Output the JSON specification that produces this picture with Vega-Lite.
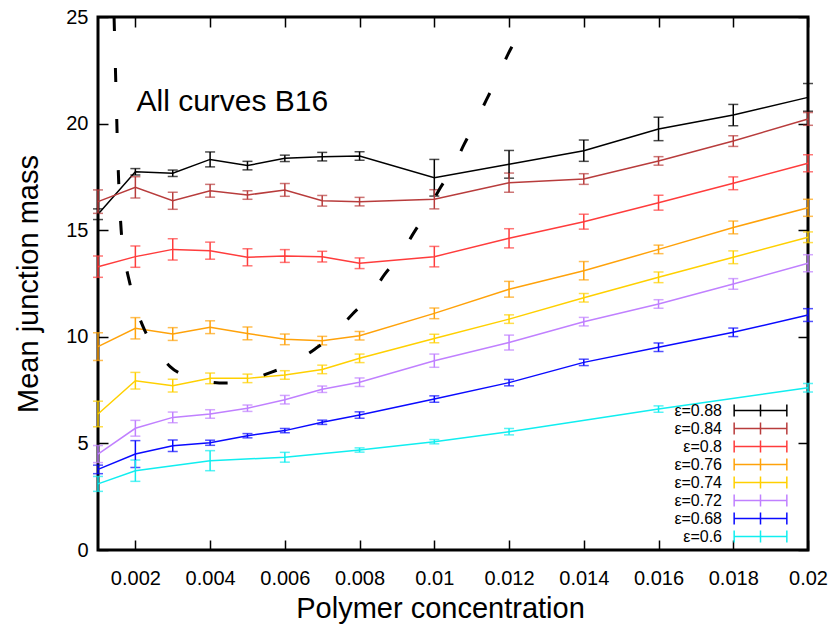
{
  "$schema": "https://vega.github.io/schema/vega-lite/v6.json",
  "width": 710,
  "height": 533,
  "autosize": {"type": "none"},
  "padding": {"left": 98, "top": 17, "right": 31, "bottom": 84},
  "background": "white",
  "config": {
    "font": "Liberation Sans",
    "view": {"stroke": "#000", "strokeWidth": 3},
    "axis": {
      "grid": false,
      "domain": false,
      "tickColor": "#000",
      "tickWidth": 1.5,
      "tickSize": -10,
      "labelColor": "#000",
      "labelFontSize": 20,
      "labelFlush": false,
      "titleFontSize": 29,
      "titleFontWeight": "normal",
      "titleColor": "#000"
    }
  },
  "datasets": {
    "series": [
      {"eps": 0.88, "conc": 0.001, "mass": 15.75, "err": 0.25},
      {"eps": 0.88, "conc": 0.002, "mass": 17.74, "err": 0.15},
      {"eps": 0.88, "conc": 0.003, "mass": 17.67, "err": 0.15},
      {"eps": 0.88, "conc": 0.004, "mass": 18.32, "err": 0.35},
      {"eps": 0.88, "conc": 0.005, "mass": 18.03, "err": 0.2},
      {"eps": 0.88, "conc": 0.006, "mass": 18.37, "err": 0.15},
      {"eps": 0.88, "conc": 0.007, "mass": 18.45, "err": 0.2},
      {"eps": 0.88, "conc": 0.008, "mass": 18.48, "err": 0.2},
      {"eps": 0.88, "conc": 0.01, "mass": 17.46, "err": 0.86},
      {"eps": 0.88, "conc": 0.012, "mass": 18.09, "err": 0.65},
      {"eps": 0.88, "conc": 0.014, "mass": 18.73, "err": 0.5},
      {"eps": 0.88, "conc": 0.016, "mass": 19.75, "err": 0.55},
      {"eps": 0.88, "conc": 0.018, "mass": 20.4, "err": 0.5},
      {"eps": 0.88, "conc": 0.02, "mass": 21.23, "err": 0.65},
      {"eps": 0.84, "conc": 0.001, "mass": 16.34, "err": 0.55},
      {"eps": 0.84, "conc": 0.002, "mass": 17.01, "err": 0.5},
      {"eps": 0.84, "conc": 0.003, "mass": 16.38, "err": 0.4},
      {"eps": 0.84, "conc": 0.004, "mass": 16.85, "err": 0.3},
      {"eps": 0.84, "conc": 0.005, "mass": 16.65, "err": 0.2},
      {"eps": 0.84, "conc": 0.006, "mass": 16.89, "err": 0.3},
      {"eps": 0.84, "conc": 0.007, "mass": 16.38, "err": 0.25},
      {"eps": 0.84, "conc": 0.008, "mass": 16.34, "err": 0.2},
      {"eps": 0.84, "conc": 0.01, "mass": 16.45, "err": 0.45},
      {"eps": 0.84, "conc": 0.012, "mass": 17.23, "err": 0.45},
      {"eps": 0.84, "conc": 0.014, "mass": 17.4, "err": 0.25},
      {"eps": 0.84, "conc": 0.016, "mass": 18.25, "err": 0.2},
      {"eps": 0.84, "conc": 0.018, "mass": 19.18, "err": 0.25},
      {"eps": 0.84, "conc": 0.02, "mass": 20.22, "err": 0.3},
      {"eps": 0.8, "conc": 0.001, "mass": 13.29, "err": 0.5},
      {"eps": 0.8, "conc": 0.002, "mass": 13.76, "err": 0.5},
      {"eps": 0.8, "conc": 0.003, "mass": 14.1, "err": 0.5},
      {"eps": 0.8, "conc": 0.004, "mass": 14.04, "err": 0.4},
      {"eps": 0.8, "conc": 0.005, "mass": 13.73, "err": 0.4},
      {"eps": 0.8, "conc": 0.006, "mass": 13.79, "err": 0.3},
      {"eps": 0.8, "conc": 0.007, "mass": 13.76, "err": 0.25},
      {"eps": 0.8, "conc": 0.008, "mass": 13.45, "err": 0.25},
      {"eps": 0.8, "conc": 0.01, "mass": 13.76, "err": 0.48},
      {"eps": 0.8, "conc": 0.012, "mass": 14.62, "err": 0.45},
      {"eps": 0.8, "conc": 0.014, "mass": 15.4, "err": 0.35},
      {"eps": 0.8, "conc": 0.016, "mass": 16.29, "err": 0.35},
      {"eps": 0.8, "conc": 0.018, "mass": 17.2, "err": 0.3},
      {"eps": 0.8, "conc": 0.02, "mass": 18.14, "err": 0.4},
      {"eps": 0.76, "conc": 0.001, "mass": 9.54, "err": 0.65},
      {"eps": 0.76, "conc": 0.002, "mass": 10.4, "err": 0.5},
      {"eps": 0.76, "conc": 0.003, "mass": 10.13, "err": 0.3},
      {"eps": 0.76, "conc": 0.004, "mass": 10.45, "err": 0.3},
      {"eps": 0.76, "conc": 0.005, "mass": 10.16, "err": 0.3},
      {"eps": 0.76, "conc": 0.006, "mass": 9.88, "err": 0.25},
      {"eps": 0.76, "conc": 0.007, "mass": 9.82, "err": 0.2},
      {"eps": 0.76, "conc": 0.008, "mass": 10.05, "err": 0.2},
      {"eps": 0.76, "conc": 0.01, "mass": 11.1, "err": 0.25},
      {"eps": 0.76, "conc": 0.012, "mass": 12.23, "err": 0.37},
      {"eps": 0.76, "conc": 0.014, "mass": 13.1, "err": 0.43},
      {"eps": 0.76, "conc": 0.016, "mass": 14.1, "err": 0.2},
      {"eps": 0.76, "conc": 0.018, "mass": 15.13, "err": 0.3},
      {"eps": 0.76, "conc": 0.02, "mass": 16.05, "err": 0.4},
      {"eps": 0.74, "conc": 0.001, "mass": 6.38, "err": 0.6},
      {"eps": 0.74, "conc": 0.002, "mass": 7.94, "err": 0.39},
      {"eps": 0.74, "conc": 0.003, "mass": 7.71, "err": 0.3},
      {"eps": 0.74, "conc": 0.004, "mass": 8.05, "err": 0.25},
      {"eps": 0.74, "conc": 0.005, "mass": 8.05, "err": 0.2},
      {"eps": 0.74, "conc": 0.006, "mass": 8.21, "err": 0.2},
      {"eps": 0.74, "conc": 0.007, "mass": 8.47, "err": 0.2},
      {"eps": 0.74, "conc": 0.008, "mass": 8.99, "err": 0.2},
      {"eps": 0.74, "conc": 0.01, "mass": 9.92, "err": 0.2},
      {"eps": 0.74, "conc": 0.012, "mass": 10.83, "err": 0.2},
      {"eps": 0.74, "conc": 0.014, "mass": 11.83, "err": 0.2},
      {"eps": 0.74, "conc": 0.016, "mass": 12.79, "err": 0.25},
      {"eps": 0.74, "conc": 0.018, "mass": 13.73, "err": 0.3},
      {"eps": 0.74, "conc": 0.02, "mass": 14.67, "err": 0.25},
      {"eps": 0.72, "conc": 0.001, "mass": 4.5, "err": 0.4},
      {"eps": 0.72, "conc": 0.002, "mass": 5.71, "err": 0.37},
      {"eps": 0.72, "conc": 0.003, "mass": 6.22, "err": 0.25},
      {"eps": 0.72, "conc": 0.004, "mass": 6.38, "err": 0.2},
      {"eps": 0.72, "conc": 0.005, "mass": 6.65, "err": 0.15},
      {"eps": 0.72, "conc": 0.006, "mass": 7.05, "err": 0.2},
      {"eps": 0.72, "conc": 0.007, "mass": 7.54, "err": 0.15},
      {"eps": 0.72, "conc": 0.008, "mass": 7.87, "err": 0.2},
      {"eps": 0.72, "conc": 0.01, "mass": 8.88, "err": 0.31},
      {"eps": 0.72, "conc": 0.012, "mass": 9.73, "err": 0.35},
      {"eps": 0.72, "conc": 0.014, "mass": 10.71, "err": 0.2},
      {"eps": 0.72, "conc": 0.016, "mass": 11.54, "err": 0.2},
      {"eps": 0.72, "conc": 0.018, "mass": 12.48, "err": 0.25},
      {"eps": 0.72, "conc": 0.02, "mass": 13.45, "err": 0.4},
      {"eps": 0.68, "conc": 0.001, "mass": 3.78, "err": 0.2},
      {"eps": 0.68, "conc": 0.002, "mass": 4.5, "err": 0.63},
      {"eps": 0.68, "conc": 0.003, "mass": 4.89, "err": 0.27},
      {"eps": 0.68, "conc": 0.004, "mass": 5.03, "err": 0.12},
      {"eps": 0.68, "conc": 0.005, "mass": 5.36, "err": 0.1},
      {"eps": 0.68, "conc": 0.006, "mass": 5.6, "err": 0.1},
      {"eps": 0.68, "conc": 0.007, "mass": 5.99, "err": 0.1},
      {"eps": 0.68, "conc": 0.008, "mass": 6.33, "err": 0.15},
      {"eps": 0.68, "conc": 0.01, "mass": 7.08, "err": 0.15},
      {"eps": 0.68, "conc": 0.012, "mass": 7.85, "err": 0.15},
      {"eps": 0.68, "conc": 0.014, "mass": 8.8, "err": 0.15},
      {"eps": 0.68, "conc": 0.016, "mass": 9.51, "err": 0.2},
      {"eps": 0.68, "conc": 0.018, "mass": 10.21, "err": 0.2},
      {"eps": 0.68, "conc": 0.02, "mass": 11.02, "err": 0.3},
      {"eps": 0.6, "conc": 0.001, "mass": 3.1, "err": 0.35},
      {"eps": 0.6, "conc": 0.002, "mass": 3.72, "err": 0.5},
      {"eps": 0.6, "conc": 0.004, "mass": 4.19, "err": 0.47},
      {"eps": 0.6, "conc": 0.006, "mass": 4.35, "err": 0.23},
      {"eps": 0.6, "conc": 0.008, "mass": 4.69, "err": 0.1},
      {"eps": 0.6, "conc": 0.01, "mass": 5.08, "err": 0.1},
      {"eps": 0.6, "conc": 0.012, "mass": 5.55, "err": 0.15},
      {"eps": 0.6, "conc": 0.016, "mass": 6.61, "err": 0.15},
      {"eps": 0.6, "conc": 0.02, "mass": 7.61, "err": 0.2}
    ],
    "curve": [
      {"conc": 0.00143, "mass": 25.0},
      {"conc": 0.00146, "mass": 23.0},
      {"conc": 0.00149, "mass": 21.0},
      {"conc": 0.00152, "mass": 19.0},
      {"conc": 0.00156, "mass": 17.0},
      {"conc": 0.00162, "mass": 15.0},
      {"conc": 0.00172, "mass": 13.6},
      {"conc": 0.00184, "mass": 12.6},
      {"conc": 0.00205, "mass": 11.2},
      {"conc": 0.00225, "mass": 10.3},
      {"conc": 0.0026, "mass": 9.3},
      {"conc": 0.00293, "mass": 8.6},
      {"conc": 0.0035, "mass": 8.1},
      {"conc": 0.0044, "mass": 7.83},
      {"conc": 0.005, "mass": 7.95},
      {"conc": 0.0055, "mass": 8.25},
      {"conc": 0.0062, "mass": 8.75},
      {"conc": 0.0068, "mass": 9.42},
      {"conc": 0.0073, "mass": 10.1},
      {"conc": 0.0078, "mass": 11.05},
      {"conc": 0.0083, "mass": 11.95},
      {"conc": 0.00866, "mass": 12.9},
      {"conc": 0.0091, "mass": 13.85},
      {"conc": 0.00944, "mass": 14.85},
      {"conc": 0.0098, "mass": 15.85},
      {"conc": 0.01013, "mass": 16.9},
      {"conc": 0.0105, "mass": 17.95},
      {"conc": 0.01079, "mass": 19.0},
      {"conc": 0.0111, "mass": 20.05},
      {"conc": 0.01139, "mass": 21.1},
      {"conc": 0.0117, "mass": 22.2},
      {"conc": 0.01197, "mass": 23.25},
      {"conc": 0.0122, "mass": 24.0}
    ]
  },
  "layer": [
    {
      "data": {"name": "series"},
      "mark": {"type": "line", "strokeWidth": 1.5},
      "encoding": {
        "x": {
          "field": "conc",
          "type": "quantitative",
          "scale": {"domain": [0.001, 0.02], "nice": false, "zero": false},
          "axis": {
            "orient": "bottom",
            "values": [0.002, 0.004, 0.006, 0.008, 0.01, 0.012, 0.014, 0.016, 0.018, 0.02],
            "format": "~g",
            "title": "Polymer concentration",
            "titleX": 342,
            "labelPadding": 28,
            "titlePadding": 6
          }
        },
        "y": {
          "field": "mass",
          "type": "quantitative",
          "scale": {"domain": [0, 25], "nice": false},
          "axis": {
            "orient": "left",
            "values": [0, 5, 10, 15, 20, 25],
            "title": "Mean junction mass",
            "labelPadding": 20,
            "titlePadding": 22
          }
        },
        "color": {
          "field": "eps",
          "type": "nominal",
          "scale": {
            "domain": [0.88, 0.84, 0.8, 0.76, 0.74, 0.72, 0.68, 0.6],
            "range": ["#000000", "#b83c3c", "#ff3c3c", "#ffa20a", "#ffd000", "#c080ff", "#0a0aff", "#10eef0"]
          },
          "legend": {
            "orient": "none",
            "legendX": 654,
            "legendY": 385,
            "title": null,
            "padding": 0,
            "symbolType": "M-3.4,0H3.4M-3.4,-0.77V0.77M3.4,-0.77V0.77M0,-0.77V0.77",
            "symbolSize": 240,
            "symbolStrokeWidth": 1.5,
            "symbolFillColor": "transparent",
            "labelExpr": "'ε=' + datum.label",
            "labelAlign": "right",
            "labelOffset": -47,
            "labelFontSize": 16,
            "labelColor": "#000",
            "rowPadding": -6
          }
        }
      }
    },
    {
      "data": {"name": "series"},
      "mark": {"type": "errorbar", "ticks": true, "size": 10, "thickness": 1.5},
      "encoding": {
        "x": {"field": "conc", "type": "quantitative", "axis": null},
        "y": {"field": "mass", "type": "quantitative", "axis": null},
        "yError": {"field": "err"},
        "color": {"field": "eps", "type": "nominal", "legend": null}
      }
    },
    {
      "data": {"name": "curve"},
      "mark": {"type": "line", "color": "#000", "strokeWidth": 3, "strokeDash": [14, 37], "interpolate": "monotone", "clip": true},
      "encoding": {
        "x": {
          "field": "conc",
          "type": "quantitative",
          "axis": {"orient": "top", "labels": false, "title": null, "values": [0.002, 0.004, 0.006, 0.008, 0.01, 0.012, 0.014, 0.016, 0.018, 0.02]}
        },
        "y": {
          "field": "mass",
          "type": "quantitative",
          "axis": {"orient": "right", "labels": false, "title": null, "values": [0, 5, 10, 15, 20, 25]}
        }
      }
    },
    {
      "data": {"values": [{}]},
      "mark": {"type": "text", "align": "left", "baseline": "middle", "fontSize": 30, "color": "#000"},
      "encoding": {
        "x": {"datum": 0.00203, "type": "quantitative", "axis": null},
        "y": {"datum": 21.0, "type": "quantitative", "axis": null},
        "text": {"value": "All curves B16"}
      }
    }
  ]
}
